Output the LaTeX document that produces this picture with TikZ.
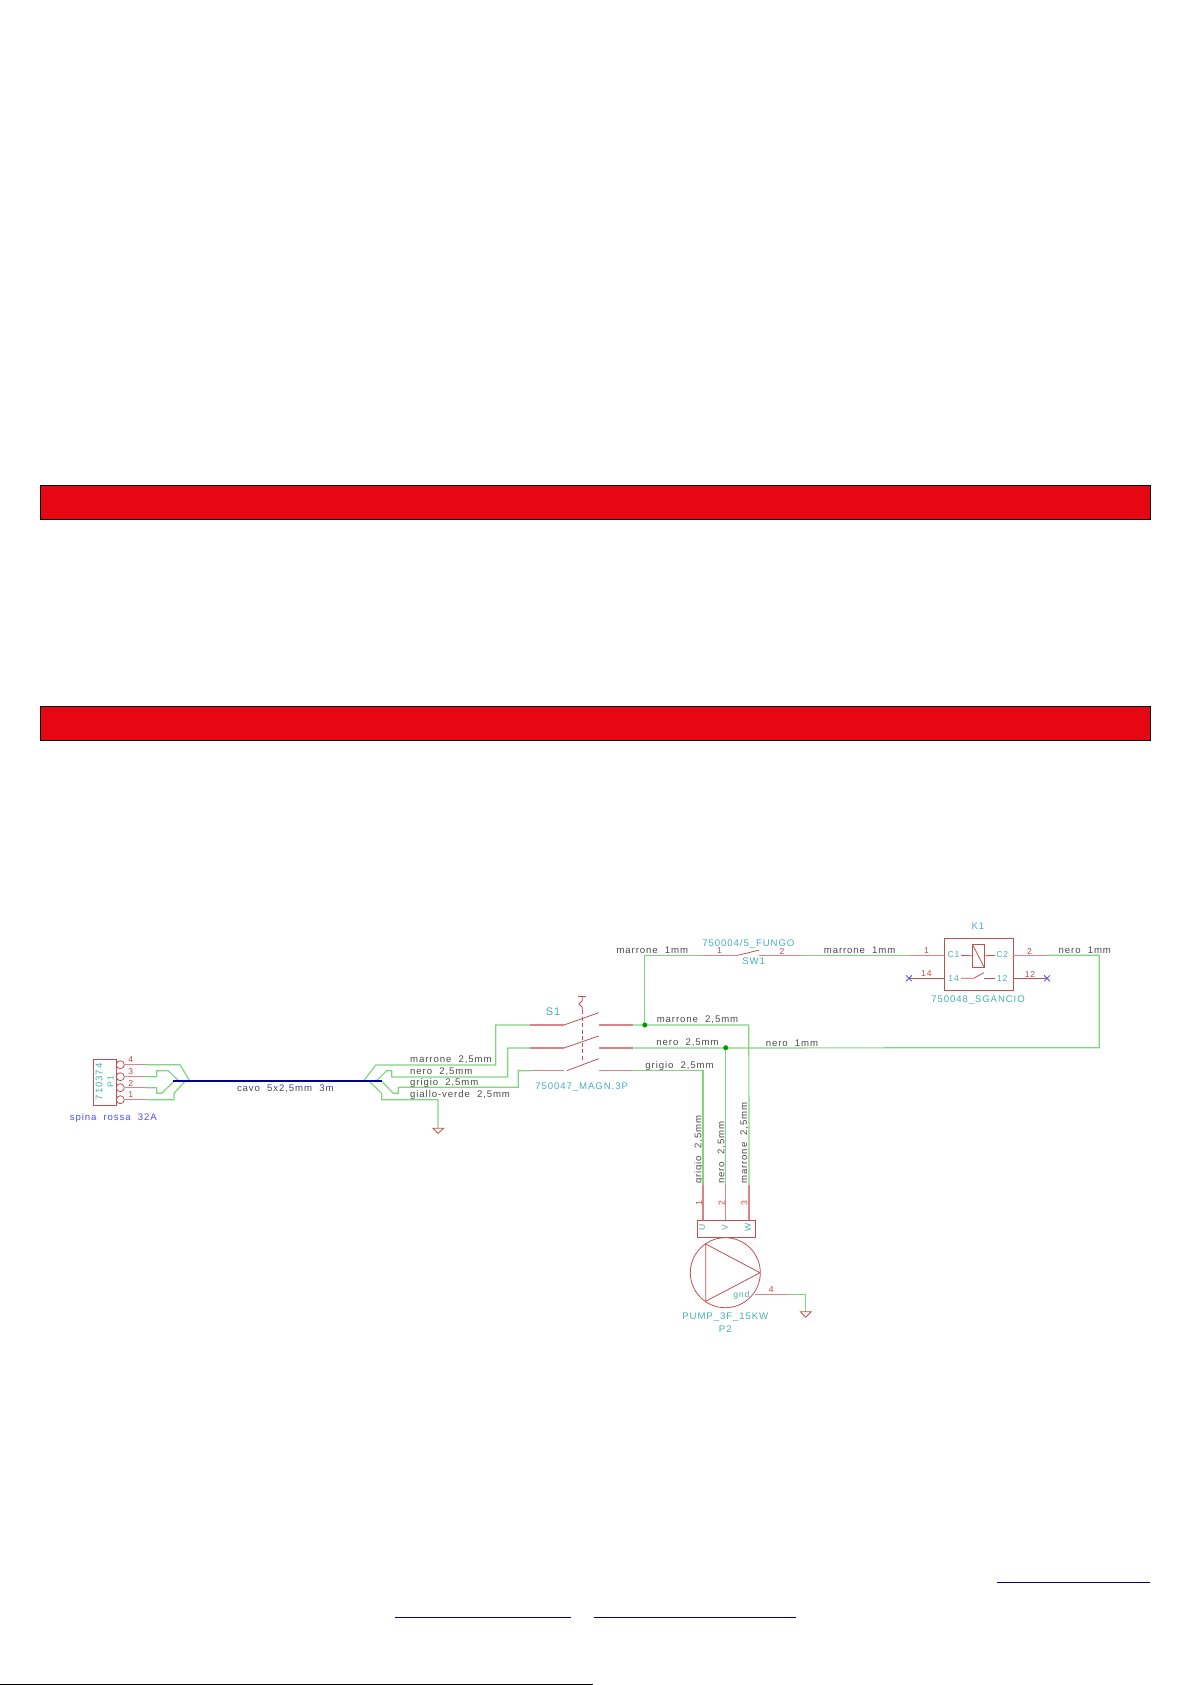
\documentclass[tikz,border=0pt]{standalone}
\usepackage{fontspec}
\usetikzlibrary{calc}
\newfontfamily\kifont[LetterSpace=9.5,WordSpace=2]{Liberation Sans}
\definecolor{kwire}{HTML}{7FD67F}
\definecolor{kpin}{HTML}{D98585}
\definecolor{ksym}{HTML}{C25050}
\definecolor{ktxt}{HTML}{4A4A4A}
\definecolor{kcy}{HTML}{45B0B0}
\definecolor{kred}{HTML}{C04848}
\definecolor{kblue}{HTML}{4D4DF0}
\definecolor{kbus}{HTML}{00009C}
\definecolor{kdot}{HTML}{009A00}
\definecolor{barred}{HTML}{E60713}
\definecolor{kund}{HTML}{000080}
\tikzset{
  wire/.style={draw=kwire,line width=1.2pt,line join=miter},
  pinln/.style={draw=kpin,line width=1.2pt},
  sym/.style={draw=ksym,line width=0.8pt},
  bar/.style={draw=black,fill=barred,line width=0.9pt},
  lnk/.style={draw=kund,line width=0.9pt},
  lab/.style={inner sep=0pt,font=\kifont\fontsize{9.6}{10}\selectfont,text=ktxt},
  cyl/.style={inner sep=0pt,font=\kifont\fontsize{9.6}{10}\selectfont,text=kcy},
  cys/.style={inner sep=0pt,font=\kifont\fontsize{8.6}{9}\selectfont,text=kcy},
  num/.style={inner sep=0pt,font=\kifont\fontsize{8.6}{9}\selectfont,text=kred},
  jct/.style={circle,fill=kdot,inner sep=0pt,minimum size=5pt},
  box/.style={draw=ksym,line width=0.9pt,fill=none,inner sep=0pt,rectangle},
  xmark/.style={draw=kblue,line width=0.8pt},
}
\begin{document}
\begin{tikzpicture}[x=1pt,y=-1pt]
\useasboundingbox (0,0) rectangle (1191,1685);
% red bars
\node[bar,minimum width=1110pt,minimum height=34pt,inner sep=0pt,anchor=north west] (barA) at (40,485) {};
\node[bar,minimum width=1110pt,minimum height=34pt,inner sep=0pt,anchor=north west] (barB) at (40,706) {};
% link underlines
\coordinate (l1a) at (997,1582.3); \coordinate (l1b) at (1150,1582.3);
\coordinate (l2a) at (395,1617.3); \coordinate (l2b) at (571,1617.3);
\coordinate (l3a) at (594,1617.3); \coordinate (l3b) at (796,1617.3);
\coordinate (fa) at (0,1684.3); \coordinate (fb) at (593,1684.3);
\draw[lnk] (l1a)--(l1b); \draw[lnk] (l2a)--(l2b); \draw[lnk] (l3a)--(l3b);
\draw[black,line width=1pt] (fa)--(fb);

% ---- P1 plug
\node[box,minimum width=22.7pt,minimum height=46.3pt,anchor=north west] (P1) at (93.3,1058.7) {};
\foreach \n/\y in {4/1064.7,3/1076.7,2/1087.7,1/1099.7}{
  \node[circle,draw=ksym,line width=0.8pt,minimum size=8pt,inner sep=0pt] (c\n) at (120.3,\y) {};
  \coordinate (p\n) at (145.7,\y);
  \draw[pinln] (c\n.east)--(p\n);
}
\node[cyl,rotate=90] (tP1v) at (99,1081.7) {710374};
\node[cys,rotate=90] (tP1r) at (110.7,1081.7) {P1};
\node[num] (n4) at (130.7,1060) {4};
\node[num] (n3) at (130.7,1072) {3};
\node[num] (n2) at (130.7,1083) {2};
\node[num] (n1) at (130.7,1095) {1};
\node[inner sep=0pt,font=\kifont\fontsize{9.6}{10}\selectfont,text=kblue] (tSp) at (113.3,1117.7) {spina rossa 32A};

% ---- switch S1 terminals
\foreach \k/\y in {a/1025,b/1048,c/1070.7}{
  \coordinate (sL\k) at (530,\y); \coordinate (sM\k) at (564,\y);
  \coordinate (sC\k) at (599.3,\y); \coordinate (sR\k) at (633.3,\y);
  \draw[pinln] (sL\k)--(sM\k);
  \draw[pinln] (sC\k)--(sR\k);
}
\draw[sym] (sMa)--(598.7,1012.7);
\draw[sym] (sMb)--(598.7,1036);
\draw[sym] (566.7,1070.7)--(598.7,1058.7);
\draw[sym] (578.3,996)--(585.7,996);
\draw[sym] (582.3,996)--(582.3,1000.7)--(579,1004)--(582.3,1007.3)--(582.3,1010);
\draw[sym,dash pattern=on 4pt off 2.5pt] (582.3,1010)--(582.3,1061.7);
\node[cyl,font=\kifont\fontsize{11}{12}\selectfont] (tS1) at (553,1012) {S1};
\node[cyl] (tS1v) at (581.7,1086.7) {750047\_MAGN.3P};

% ---- bus and fan-outs
\coordinate (busL) at (173.3,1081.3); \coordinate (busR) at (381.7,1081.3);
\draw[wire] (p4)--(180,1064.7)--(190,1081.3);
\draw[wire] (p3)--(156.7,1076.7)--(156.7,1070.7)--(168.3,1070.7)--(179,1081.3);
\draw[wire] (p2)--(156.7,1087.7)--(156.7,1093.3)--(161.7,1093.3)--(174,1081.3);
\draw[wire] (p1)--(174,1099.7)--(174,1093.3)--(185,1081.3);
\draw[wire] (363.3,1081.3)--(375.7,1065)--(495.7,1065)--(495.7,1025)--(sLa);
\draw[wire] (376,1081.3)--(386.7,1070.7)--(391.7,1070.7)--(391.7,1077)--(507.7,1077)--(507.7,1048)--(sLb);
\draw[wire] (381.7,1081.3)--(393.3,1093.3)--(398.3,1093.3)--(398.3,1087.3)--(518.3,1087.3)--(518.3,1070.7)--(sLc);
\coordinate (gndA) at (438,1128.3);
\draw[wire] (369.3,1081.3)--(381.7,1093.3)--(381.7,1099.7)--(438,1099.7)--(gndA);
\draw[draw=kbus,line width=2.1pt] (busL)--(busR);
\draw[sym] (433,1128.3)--(443.7,1128.3)--(438,1133.3)--cycle;
\node[lab] (tCavo) at (285.3,1089) {cavo 5x2,5mm 3m};
\node[lab,anchor=west] (tL1) at (410,1059.7) {marrone 2,5mm};
\node[lab,anchor=west] (tL2) at (410,1071.7) {nero 2,5mm};
\node[lab,anchor=west] (tL3) at (410,1082.7) {grigio 2,5mm};
\node[lab,anchor=west] (tL4) at (410,1094.7) {giallo-verde 2,5mm};

% ---- pump P2
\coordinate (wU) at (703,1185); \coordinate (wV) at (725.7,1185); \coordinate (wW) at (749,1185);
\node[box,minimum width=58pt,minimum height=17.3pt,anchor=north west] (pBox) at (697,1220) {};
\draw[pinln] (wU)--(703,1220);
\draw[pinln] (wV)--(725.7,1220);
\draw[pinln] (wW)--(749,1220);
\node[circle,draw=ksym,line width=0.8pt,minimum size=70pt,inner sep=0pt] (pump) at (725.3,1272.7) {};
\draw[sym,line join=round] (705.7,1244)--(705.7,1301.3)--(760,1272.7)--cycle;
\node[cys,rotate=90] (tU) at (702,1227.7) {U};
\node[cys,rotate=90] (tV) at (725,1227.7) {V};
\node[cys,rotate=90] (tW) at (748,1227.7) {W};
\node[cys] (tGnd) at (741.3,1295) {gnd};
\node[num] (nP4) at (771.3,1290) {4};
\node[cyl] (tPump) at (725.3,1316.7) {PUMP\_3F\_15KW};
\node[cyl] (tP2) at (725.3,1328.7) {P2};
\coordinate (g1) at (755,1294.7); \coordinate (g2) at (789,1294.7); \coordinate (gndB) at (805.7,1311.7);
\draw[pinln] (g1)--(g2);
\draw[wire] (g2)--(805.7,1294.7)--(gndB);
\draw[sym] (800.3,1311.7)--(811.3,1311.7)--(805.7,1317.3)--cycle;
\node[num,rotate=90] (nU) at (699,1203) {1};
\node[num,rotate=90] (nV) at (721.7,1203) {2};
\node[num,rotate=90] (nW) at (744.3,1203) {3};
\node[lab,rotate=90,anchor=west] (tU2) at (699,1184) {grigio 2,5mm};
\node[lab,rotate=90,anchor=west] (tV2) at (721.7,1184) {nero 2,5mm};
\node[lab,rotate=90,anchor=west] (tW2) at (744.3,1184) {marrone 2,5mm};

% ---- SW1
\coordinate (swA) at (702.6,955.3); \coordinate (swB) at (737.7,955.3);
\coordinate (swC) at (759.4,955.3); \coordinate (swD) at (800.8,955.3);
\draw[pinln] (swA)--(swB);
\draw[pinln] (swC)--(swD);
\draw[sym] (swB)--(759.4,950);
\node[cyl] (tSW) at (748.4,944) {750004/5\_FUNGO};
\node[cyl] (tSW1) at (753.6,961.3) {SW1};
\node[num] (nS1) at (719.5,951) {1};
\node[num] (nS2) at (782,951) {2};

% ---- K1 relay
\node[box,minimum width=68.5pt,minimum height=52pt,anchor=north west] (K1) at (944,938.3) {};
\coordinate (kL) at (908.9,955.3); \coordinate (kR) at (1047.7,955.3);
\draw[pinln] (kL)--(944,955.3);
\draw[pinln] (1012.5,955.3)--(kR);
\node[draw=ksym,line width=0.9pt,minimum width=11.4pt,minimum height=23pt,inner sep=0pt] (coil) at (978.3,955.8) {};
\draw[sym] (coil.north west)--(coil.south east);
\draw[sym] (960.9,955.3)--(coil.west);
\draw[sym] (coil.east)--(995.3,955.3);
\draw[sym] (960.9,978.3)--(973.6,978.3)--(984,972.7);
\draw[sym] (984,978.3)--(995.3,978.3);
\coordinate (x14) at (908.9,978.3); \coordinate (x12) at (1047,978.3);
\draw[sym] (944,978.3)--(x14);
\draw[sym] (1012.5,978.3)--(x12);
\draw[xmark] ($(x14)+(-3,-3)$)--($(x14)+(3,3)$);
\draw[xmark] ($(x14)+(-3,3)$)--($(x14)+(3,-3)$);
\draw[xmark] ($(x12)+(-3,-3)$)--($(x12)+(3,3)$);
\draw[xmark] ($(x12)+(-3,3)$)--($(x12)+(3,-3)$);
\node[cyl] (tK1) at (978,926) {K1};
\node[cys] (tC1) at (953.6,955) {C1};
\node[cys] (tC2) at (1002.2,955) {C2};
\node[cys] (t14) at (953.6,978.3) {14};
\node[cys] (t12) at (1002.2,978.3) {12};
\node[cyl] (tK1v) at (978,1000.3) {750048\_SGANCIO};
\node[num] (nK1) at (926.4,951) {1};
\node[num] (nK2) at (1029.4,951) {2};
\node[num] (nK14) at (926.4,974) {14};
\node[num] (nK12) at (1030,974) {12};

% ---- main wires right of the switch
\coordinate (j1c) at (644.8,1025);
\coordinate (j2c) at (725.7,1047.7);
\coordinate (cR) at (1099.3,955.3); \coordinate (cB) at (1099.3,1047.7);
\draw[wire] (j1c)--(644.8,955.3)--(swA);
\draw[wire] (swD)--(kL);
\draw[wire] (kR)--(cR)--(cB)--(sRb);
\draw[wire] (sRa)--(748.8,1025)--(wW);
\draw[wire] (j2c)--(wV);
\draw[wire] (sRc)--(703,1070.7)--(wU);
\node[jct] (j1) at (j1c) {};
\node[jct] (j2) at (j2c) {};
\node[lab] (tM1) at (652.3,950.5) {marrone 1mm};
\node[lab] (tM2) at (859.6,950.5) {marrone 1mm};
\node[lab] (tN1) at (1084.8,950.5) {nero 1mm};
\node[lab] (tM3) at (697.5,1020) {marrone 2,5mm};
\node[lab] (tN2) at (687.5,1043) {nero 2,5mm};
\node[lab] (tN3) at (792,1043) {nero 1mm};
\node[lab] (tG1) at (679.5,1065.7) {grigio 2,5mm};
\end{tikzpicture}
\end{document}
